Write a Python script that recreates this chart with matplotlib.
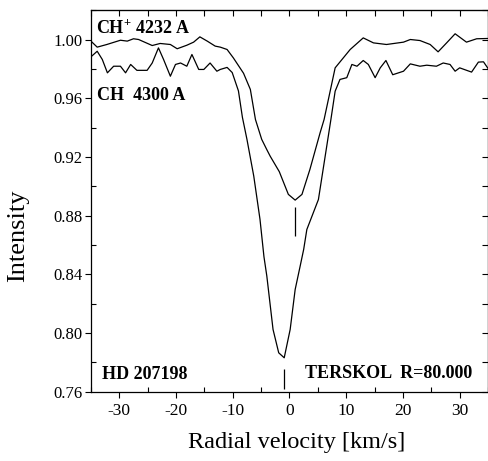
import matplotlib
matplotlib.use("Agg")
import matplotlib.pyplot as plt
from matplotlib.ticker import MultipleLocator, FormatStrFormatter

plt.rcParams["font.family"] = ["Liberation Serif", "DejaVu Serif"]
plt.rcParams["mathtext.fontset"] = "custom"
plt.rcParams["mathtext.rm"] = "Liberation Serif"
plt.rcParams["mathtext.bf"] = "Liberation Serif:bold"
plt.rcParams["axes.unicode_minus"] = False

# CH+ 4232 A profile
vel_chp = [-35.0, -33.9, -32.2, -29.8, -28.6, -27.5, -26.6, -24.2, -22.8, -21.0,
           -19.8, -18.1, -16.9, -15.8, -14.5, -13.1, -12.2, -11.0, -9.9, -8.1,
           -6.9, -6.0, -4.9, -4.0, -3.4, -1.8, -0.2, 1.0, 2.2, 3.6,
           5.4, 6.1, 8.05, 10.7, 13.0, 14.8, 17.1, 20.1, 21.3, 23.0,
           24.8, 26.2, 27.7, 29.2, 31.2, 33.0, 35.0]
int_chp = [0.9989, 0.9948, 0.9966, 0.9995, 0.9989, 1.0005, 1.0000, 0.9959, 0.9973, 0.9966,
           0.9937, 0.9961, 0.9982, 1.0018, 0.9989, 0.9955, 0.9948, 0.9932, 0.9875, 0.9770,
           0.9660, 0.9455, 0.9320, 0.9250, 0.9205, 0.9100, 0.8945, 0.8906, 0.8945, 0.9115,
           0.9365, 0.9455, 0.9807, 0.9932, 1.0011, 0.9977, 0.9966, 0.9982, 1.0000, 0.9993,
           0.9966, 0.9916, 0.9977, 1.0039, 0.9982, 1.0005, 1.0007]

# CH 4300 A profile
vel_ch = [-35.0, -33.9, -33.0, -32.1, -31.0, -29.8, -28.9, -28.0, -26.9, -25.1,
          -24.2, -23.1, -22.2, -21.0, -20.1, -19.2, -18.1, -17.2, -16.0, -15.1,
          -14.0, -12.8, -12.2, -11.0, -10.1, -9.0, -8.3, -7.5, -6.3, -5.2,
          -4.5, -4.0, -2.9, -1.9, -0.93, 0.12, 1.0, 1.9, 2.5, 3.06,
          5.1, 7.3, 8.05, 8.9, 10.1, 11.0, 11.9, 13.0, 13.9, 15.1,
          16.0, 17.0, 18.2, 20.1, 21.3, 23.0, 24.2, 25.9, 27.1, 28.3,
          29.2, 30.0, 32.1, 33.3, 34.2, 35.0]
int_ch = [0.9882, 0.9920, 0.9864, 0.9773, 0.9818, 0.9818, 0.9773, 0.9830, 0.9790, 0.9790,
          0.9840, 0.9943, 0.9864, 0.9750, 0.9830, 0.9840, 0.9818, 0.9898, 0.9796, 0.9796,
          0.9840, 0.9784, 0.9796, 0.9810, 0.9775, 0.9650, 0.9470, 0.9320, 0.9070, 0.8775,
          0.8520, 0.8390, 0.8025, 0.7866, 0.7832, 0.8025, 0.8297, 0.8460, 0.8570, 0.8706,
          0.8910, 0.9455, 0.9648, 0.9728, 0.9740, 0.9830, 0.9818, 0.9857, 0.9830, 0.9740,
          0.9807, 0.9857, 0.9760, 0.9784, 0.9834, 0.9818, 0.9825, 0.9818, 0.9840, 0.9830,
          0.9784, 0.9807, 0.9778, 0.9846, 0.9848, 0.9803]

# line-centre markers: (velocity, bottom, top)
mark_chp = (1.0, 0.866, 0.886)
mark_ch = (-0.93, 0.762, 0.7755)

fig = plt.figure(figsize=(4.89, 4.61), dpi=100)
ax = fig.add_axes([0.186, 0.150, 0.812, 0.828])

ax.plot(vel_chp, int_chp, color="black", linewidth=0.9)
ax.plot(vel_ch, int_ch, color="black", linewidth=0.9)
ax.vlines([mark_chp[0]], mark_chp[1], mark_chp[2], color="black", linewidth=0.9)
ax.vlines([mark_ch[0]], mark_ch[1], mark_ch[2], color="black", linewidth=0.9)

ax.set_xlim(-35, 35)
ax.set_ylim(0.76, 1.02)
ax.xaxis.set_major_locator(MultipleLocator(10))
ax.xaxis.set_minor_locator(MultipleLocator(5))
ax.yaxis.set_major_locator(MultipleLocator(0.04))
ax.yaxis.set_minor_locator(MultipleLocator(0.02))
ax.yaxis.set_major_formatter(FormatStrFormatter("%.2f"))

# left/bottom: major ticks out, minor ticks in
ax.tick_params(which="major", direction="out", length=4, width=0.8)
ax.tick_params(which="minor", direction="in", length=3.5, width=0.8)
ax.tick_params(axis="x", labelsize=12.5, pad=4)
ax.tick_params(axis="y", labelsize=12, pad=2)
for s in ax.spines.values():
    s.set_linewidth(0.9)

# top/right: all ticks in, no labels
top = ax.secondary_xaxis("top")
top.xaxis.set_major_locator(MultipleLocator(5))
top.tick_params(direction="in", length=4, width=0.8, labeltop=False)
right = ax.secondary_yaxis("right")
right.yaxis.set_major_locator(MultipleLocator(0.02))
right.tick_params(direction="in", length=4, width=0.8, labelright=False)

ax.set_xlabel("Radial velocity [km/s]", fontsize=17.5)
ax.set_ylabel("Intensity", fontsize=19)
ax.xaxis.set_label_coords(0.519, -0.105)
ax.yaxis.set_label_coords(-0.155, 0.41)

bold = dict(fontsize=13, fontweight="bold", va="baseline", ha="left")
ax.text(-34.1, 1.0035, r"CH$^{\mathbf{+}}$ 4232 A", **bold)
ax.text(-33.9, 0.9585, "CH  4300 A", **bold)
ax.text(-33.0, 0.769, "HD 207198", **bold)
ax.text(2.76, 0.7696, "TERSKOL  R=80.000", **bold)

fig.savefig("out.png", dpi=100)
